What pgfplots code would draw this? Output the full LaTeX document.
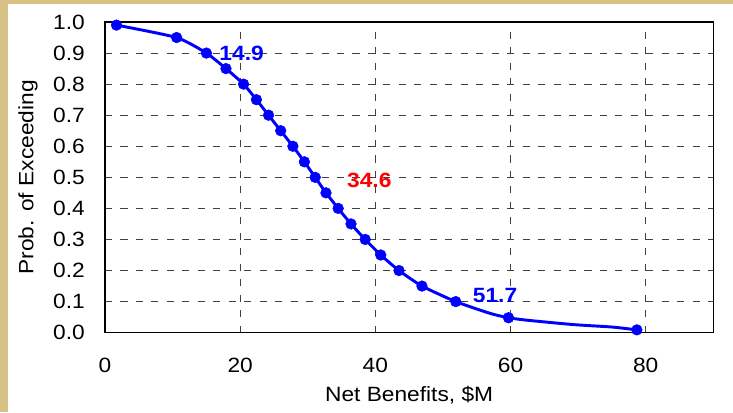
\documentclass[border=0pt]{standalone}
\usepackage{fontspec}
\setmainfont{Liberation Sans}[FakeStretch=1.1]
\usepackage{pgfplots}
\pgfplotsset{compat=1.18}
\definecolor{tanbg}{RGB}{214,192,132}
\definecolor{pblue}{RGB}{0,0,255}
\definecolor{pred}{RGB}{255,0,0}
\begin{document}
\begin{tikzpicture}[x=1pt,y=1pt]
\useasboundingbox (0,0) rectangle (549.75,309);
\fill[white] (0,0) rectangle (549.75,309);
\fill[tanbg] (0,0) rectangle (6,309);
\fill[tanbg] (0,306) rectangle (549.75,309);
\begin{axis}[
  at={(78.75pt,59.5pt)}, anchor=south west,
  scale only axis, width=456.2pt, height=233pt,
  xmin=0, xmax=90, ymin=0, ymax=1,
  xtick={0,20,40,60,80},
  ytick={0,0.1,0.2,0.3,0.4,0.5,0.6,0.7,0.8,0.9,1.0},
  /pgf/number format/assume math mode=true,
  yticklabel style={/pgf/number format/fixed, /pgf/number format/fixed zerofill, /pgf/number format/precision=1},
  font=\fontsize{15.5}{18}\selectfont,
  tick label style={font=\fontsize{15.5}{18}\selectfont},
  label style={font=\fontsize{15.5}{18}\selectfont},
  xticklabel style={anchor=center, yshift=-24.2pt},
  yticklabel style={anchor=east, inner sep=0pt, xshift=-15pt},
  major tick length=0pt,
  grid=major,
  major grid style={black!75, dash pattern=on 5.3pt off 6.3pt, line width=0.8pt},
  axis line style={black, line width=1pt},
  xlabel={Net Benefits, \$M},
  ylabel={Prob. of Exceeding},
  every axis x label/.style={at={(axis description cs:0.5,-0.2004)}, anchor=center},
  every axis y label/.style={at={(axis description cs:-0.1266,0.5)}, anchor=center, rotate=90},
  clip=false,
]
% line through the distribution
\addplot[pblue, line width=2.2pt, smooth, tension=0.35, mark=none] coordinates {
(1.7,0.99)(10.6,0.95)(15.0,0.90)(17.9,0.85)(20.5,0.80)(22.4,0.75)(24.2,0.70)
(26.0,0.65)(27.8,0.60)(29.5,0.55)(31.1,0.50)(32.7,0.45)(34.5,0.40)(36.4,0.35)
(38.5,0.30)(40.8,0.25)(43.5,0.20)(46.9,0.15)(51.9,0.10)(57.0,0.062)(59.7,0.048)
(62.5,0.040)(69.3,0.026)(75.1,0.018)(78.7,0.009)
};
% markers
\addplot[only marks, mark=*, mark size=4pt, pblue, mark options={fill=pblue, draw=pblue}] coordinates {
(1.7,0.99)(10.6,0.95)(15.0,0.90)(17.9,0.85)(20.5,0.80)(22.4,0.75)(24.2,0.70)
(26.0,0.65)(27.8,0.60)(29.5,0.55)(31.1,0.50)(32.7,0.45)(34.5,0.40)(36.4,0.35)
(38.5,0.30)(40.8,0.25)(43.5,0.20)(46.9,0.15)(51.9,0.10)(59.7,0.048)(78.7,0.009)
};
\node[anchor=west, inner sep=0pt, text=pblue, font=\fontsize{15.5}{18}\selectfont\bfseries] at (axis cs:16.9,0.90) {14.9};
\node[anchor=west, inner sep=0pt, text=pred, font=\fontsize{15.5}{18}\selectfont\bfseries] at (axis cs:35.8,0.49) {34.6};
\node[anchor=west, inner sep=0pt, text=pblue, font=\fontsize{15.5}{18}\selectfont\bfseries] at (axis cs:54.4,0.12) {51.7};
\end{axis}
\end{tikzpicture}
\end{document}
